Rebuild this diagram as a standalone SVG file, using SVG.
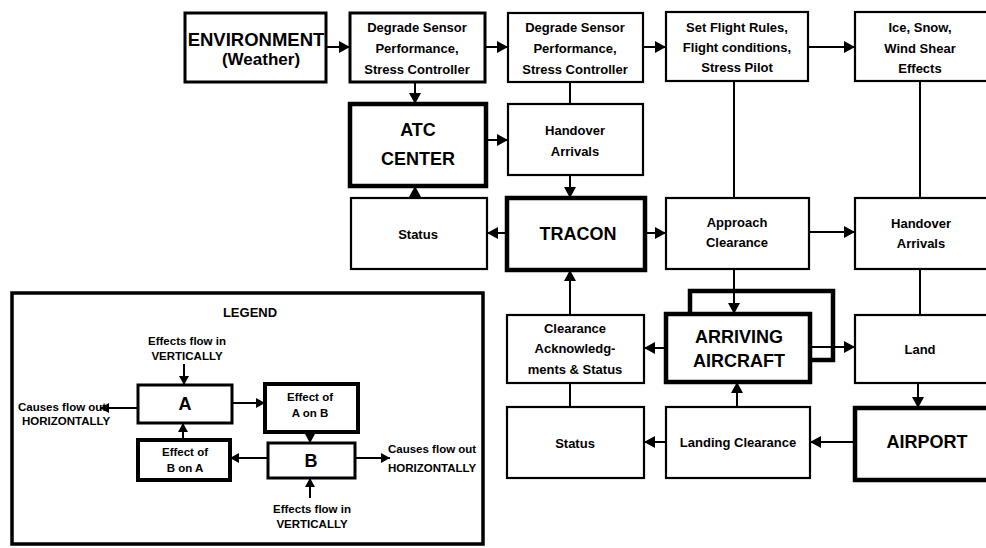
<svg xmlns="http://www.w3.org/2000/svg" width="986" height="548" viewBox="0 0 986 548">
  <defs>
    <marker id="arrow" viewBox="0 0 11 12" markerWidth="11" markerHeight="12" refX="11" refY="6" markerUnits="userSpaceOnUse" orient="auto">
      <path d="M0,0 L11,6 L0,12 Z" fill="#000"/>
    </marker>
    <marker id="arrow-sm" viewBox="0 0 9 10" markerWidth="9" markerHeight="10" refX="9" refY="5" markerUnits="userSpaceOnUse" orient="auto">
      <path d="M0,0 L9,5 L0,10 Z" fill="#000"/>
    </marker>
    <style>
      text { font-family: "Liberation Sans", Arial, sans-serif; font-weight: bold; fill: #000; text-anchor: middle; }
      .box { fill: #fff; stroke: #000; stroke-width: 2.2; }
      .mid { stroke-width: 3; }
      .heavy { stroke-width: 4.5; }
      .small { font-size: 13px; }
      .big { font-size: 18px; }
      .leg { font-size: 11.5px; }
      .link { fill: none; stroke: #000; stroke-width: 2; }
      .arr { marker-end: url(#arrow); }
      .larr { marker-end: url(#arrow-sm); }
      .loop { fill: none; stroke: #000; stroke-width: 4.5; }
    </style>
  </defs>

  <rect width="986" height="548" fill="#fff"/>

  <!-- connectors -->
  <g id="connectors">
    <path class="link arr" d="M326,47 H350"/>
    <path class="link arr" d="M485,47 H508"/>
    <path class="link arr" d="M643,47 H666"/>
    <path class="link arr" d="M808,47 H855"/>
    <path class="link arr" d="M415,82 V104"/>
    <path class="link" d="M570,82 V104"/>
    <path class="link arr" d="M486,140 H508"/>
    <path class="link arr" d="M570,175 V198"/>
    <path class="link arr" d="M415,198 V186"/>
    <path class="link arr" d="M507,233 H487"/>
    <path class="link arr" d="M645,233 H666"/>
    <path class="link" d="M734,81 V198"/>
    <path class="link" d="M920,81 V198"/>
    <path class="link arr" d="M809,232 H855"/>
    <path class="link arr" d="M734,269 V314"/>
    <path class="link" d="M920,269 V315"/>
    <path class="link arr" d="M570,315 V270"/>
    <path class="link arr" d="M666,348 H644"/>
    <path class="link arr" d="M810,347 H855"/>
    <path class="link" d="M570,383 V407"/>
    <path class="link arr" d="M737,407 V382"/>
    <path class="link arr" d="M666,442 H644"/>
    <path class="link arr" d="M855,442 H810"/>
    <path class="link arr" d="M918,383 V408"/>
    <!-- self-loop on the aircraft -->
    <path class="loop" d="M690,314 V291 H833 V360 H810"/>
  </g>

  <g id="environment">
    <rect class="box mid" x="185" y="13" width="141" height="69"/>
    <text x="256" y="46" style="font-size:18.5px">ENVIRONMENT</text>
    <text x="261" y="65" style="font-size:17px">(Weather)</text>
  </g>

  <g id="degrade-1">
    <rect class="box mid" x="350" y="13" width="135" height="69"/>
    <text class="small" x="417" y="32">Degrade Sensor</text>
    <text class="small" x="417" y="53">Performance,</text>
    <text class="small" x="417" y="74">Stress Controller</text>
  </g>

  <g id="degrade-2">
    <rect class="box" x="508" y="13" width="135" height="69"/>
    <text class="small" x="575" y="32">Degrade Sensor</text>
    <text class="small" x="575" y="53">Performance,</text>
    <text class="small" x="575" y="74">Stress Controller</text>
  </g>

  <g id="flight-rules">
    <rect class="box" x="666" y="12" width="142" height="69"/>
    <text class="small" x="737" y="32">Set Flight Rules,</text>
    <text class="small" x="737" y="52">Flight conditions,</text>
    <text class="small" x="737" y="72">Stress Pilot</text>
  </g>

  <g id="ice-snow">
    <rect class="box" x="855" y="12" width="140" height="69"/>
    <text class="small" x="920" y="32">Ice, Snow,</text>
    <text class="small" x="920" y="53">Wind Shear</text>
    <text class="small" x="920" y="73">Effects</text>
  </g>

  <g id="atc-center">
    <rect class="box heavy" x="350" y="104" width="136" height="82"/>
    <text class="big" x="418" y="136">ATC</text>
    <text class="big" x="418" y="165">CENTER</text>
  </g>

  <g id="handover-1">
    <rect class="box" x="508" y="104" width="135" height="71"/>
    <text class="small" x="575" y="135">Handover</text>
    <text class="small" x="575" y="156">Arrivals</text>
  </g>

  <g id="status-1">
    <rect class="box" x="351" y="198" width="136" height="71"/>
    <text class="small" x="418" y="239">Status</text>
  </g>

  <g id="tracon">
    <rect class="box heavy" x="507" y="198" width="138" height="72"/>
    <text class="big" x="578" y="240">TRACON</text>
  </g>

  <g id="approach">
    <rect class="box" x="666" y="198" width="143" height="71"/>
    <text class="small" x="737" y="227">Approach</text>
    <text class="small" x="737" y="247">Clearance</text>
  </g>

  <g id="handover-2">
    <rect class="box" x="855" y="198" width="140" height="71"/>
    <text class="small" x="921" y="228">Handover</text>
    <text class="small" x="921" y="248">Arrivals</text>
  </g>

  <g id="clearance-ack">
    <rect class="box" x="507" y="315" width="137" height="68"/>
    <text class="small" x="575" y="333">Clearance</text>
    <text class="small" x="575" y="353">Acknowledg-</text>
    <text class="small" x="575" y="374">ments &amp; Status</text>
  </g>

  <g id="arriving-aircraft">
    <rect class="box heavy" x="666" y="314" width="144" height="68"/>
    <text class="big" x="739" y="343">ARRIVING</text>
    <text class="big" x="739" y="367">AIRCRAFT</text>
  </g>

  <g id="land">
    <rect class="box" x="855" y="315" width="140" height="68"/>
    <text class="small" x="920" y="354">Land</text>
  </g>

  <g id="status-2">
    <rect class="box" x="507" y="407" width="137" height="71"/>
    <text class="small" x="575" y="448">Status</text>
  </g>

  <g id="landing-clearance">
    <rect class="box" x="666" y="407" width="144" height="71"/>
    <text class="small" x="738" y="447">Landing Clearance</text>
  </g>

  <g id="airport">
    <rect class="box heavy" x="855" y="408" width="140" height="72"/>
    <text class="big" x="927" y="448">AIRPORT</text>
  </g>

  <!-- legend panel -->
  <g id="legend">
    <rect class="box" x="12" y="293" width="471" height="251" style="stroke-width:3.5"/>
    <text x="250" y="317" style="font-size:13px">LEGEND</text>

    <text class="leg" x="187" y="345">Effects flow in</text>
    <text class="leg" x="187" y="360">VERTICALLY</text>

    <text class="leg" x="18" y="411" style="text-anchor:start">Causes flow out</text>
    <text class="leg" x="22" y="425" style="text-anchor:start">HORIZONTALLY</text>

    <text class="leg" x="388" y="453" style="text-anchor:start">Causes flow out</text>
    <text class="leg" x="388" y="472" style="text-anchor:start">HORIZONTALLY</text>

    <text class="leg" x="312" y="513">Effects flow in</text>
    <text class="leg" x="312" y="528">VERTICALLY</text>

    <g id="legend-arrows">
      <path class="link larr" d="M184,364 V385"/>
      <path class="link larr" d="M138,408 H100"/>
      <path class="link larr" d="M232,403 H265"/>
      <path class="link larr" d="M310,432 V443"/>
      <path class="link larr" d="M268,458 H230"/>
      <path class="link larr" d="M183,440 V423"/>
      <path class="link larr" d="M355,458 H390"/>
      <path class="link larr" d="M310,498 V478"/>
    </g>

    <g id="legend-a">
      <rect class="box mid" x="138" y="385" width="94" height="38"/>
      <text x="185" y="410" style="font-size:18px">A</text>
    </g>
    <g id="legend-effect-ab">
      <rect class="box" x="265" y="384" width="93" height="48" style="stroke-width:4"/>
      <text class="leg" x="310" y="401">Effect of</text>
      <text class="leg" x="310" y="417">A on B</text>
    </g>
    <g id="legend-effect-ba">
      <rect class="box" x="138" y="440" width="92" height="40" style="stroke-width:4"/>
      <text class="leg" x="185" y="456">Effect of</text>
      <text class="leg" x="185" y="472">B on A</text>
    </g>
    <g id="legend-b">
      <rect class="box mid" x="268" y="443" width="87" height="35"/>
      <text x="311" y="467" style="font-size:18px">B</text>
    </g>
  </g>
</svg>
